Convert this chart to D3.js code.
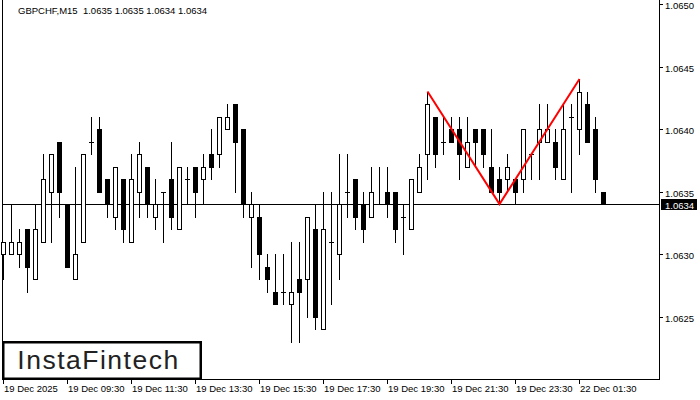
<!DOCTYPE html>
<html>
<head>
<meta charset="utf-8">
<script src="https://cdn.jsdelivr.net/npm/d3@7"></script>
<style>
  body { margin: 0; background: #fff; }
  text { font-family: "Liberation Sans", Arial, sans-serif; }
</style>
</head>
<body>
<div id="svgcontainer"></div>
<script>
let width = 700;
let height = 400;

let symbol = "GBPCHF";
let period = "M15";
// OHLC of each 15 min bar
let opens = [1.0630, 1.0630, 1.0630, 1.0632, 1.0628, 1.0631, 1.0635, 1.0639, 1.0634, 1.0628,
    1.0631, 1.0639, 1.0640, 1.0636, 1.0633, 1.0636, 1.0631, 1.0635, 1.0637, 1.0633,
    1.0635, 1.0636, 1.0632, 1.0636, 1.0637, 1.0636, 1.0638, 1.0638, 1.0640, 1.0642,
    1.0640, 1.0633, 1.0633, 1.0629, 1.0627, 1.0627, 1.0626, 1.0628, 1.0628, 1.0632,
    1.0624, 1.0631, 1.0630, 1.0635, 1.0636, 1.0634, 1.0633, 1.0634, 1.0635, 1.0635,
    1.0633, 1.0632, 1.0635, 1.0638, 1.0641, 1.0639, 1.0640, 1.0640, 1.0637, 1.0640,
    1.0640, 1.0637, 1.0636, 1.0636, 1.0636, 1.0636, 1.0638, 1.0639, 1.0639, 1.0639,
    1.0636, 1.0641, 1.0640, 1.0642, 1.0640, 1.0635];
let highs = [1.0631, 1.0634, 1.0632, 1.0632, 1.0634, 1.0638, 1.0638, 1.0639, 1.0634, 1.0637,
    1.0638, 1.0641, 1.0641, 1.0636, 1.0637, 1.0636, 1.0638, 1.0639, 1.0637, 1.0636,
    1.0635, 1.0639, 1.0637, 1.0637, 1.0637, 1.0638, 1.0640, 1.0641, 1.0642, 1.0642,
    1.0640, 1.0635, 1.0634, 1.0630, 1.0630, 1.0630, 1.0631, 1.0631, 1.0633, 1.0634,
    1.0635, 1.0635, 1.0638, 1.0638, 1.0636, 1.0635, 1.0637, 1.0637, 1.0637, 1.0635,
    1.0634, 1.0636, 1.0638, 1.0643, 1.0641, 1.0641, 1.0641, 1.0641, 1.0641, 1.0640,
    1.0640, 1.0640, 1.0637, 1.0638, 1.0636, 1.0640, 1.0638, 1.0642, 1.0642, 1.0640,
    1.0642, 1.0642, 1.0644, 1.0643, 1.0641, 1.0635];
let lows = [1.0628, 1.0630, 1.0629, 1.0627, 1.0628, 1.0631, 1.0631, 1.0633, 1.0629, 1.0628,
    1.0631, 1.0638, 1.0635, 1.0633, 1.0632, 1.0631, 1.0631, 1.0633, 1.0633, 1.0632,
    1.0631, 1.0632, 1.0632, 1.0634, 1.0633, 1.0634, 1.0636, 1.0637, 1.0640, 1.0635,
    1.0633, 1.0629, 1.0628, 1.0627, 1.0626, 1.0626, 1.0623, 1.0623, 1.0625, 1.0624,
    1.0624, 1.0626, 1.0628, 1.0633, 1.0632, 1.0631, 1.0633, 1.0634, 1.0633, 1.0631,
    1.0630, 1.0632, 1.0635, 1.0636, 1.0637, 1.0638, 1.0639, 1.0636, 1.0637, 1.0637,
    1.0637, 1.0635, 1.0634, 1.0635, 1.0634, 1.0635, 1.0636, 1.0636, 1.0639, 1.0636,
    1.0636, 1.0635, 1.0638, 1.0639, 1.0635, 1.0634];
let closes = [1.0631, 1.0631, 1.0631, 1.0629, 1.0632, 1.0636, 1.0638, 1.0635, 1.0629, 1.0630,
    1.0638, 1.0639, 1.0635, 1.0634, 1.0637, 1.0632, 1.0636, 1.0638, 1.0634, 1.0634,
    1.0635, 1.0633, 1.0637, 1.0636, 1.0635, 1.0637, 1.0637, 1.0641, 1.0641, 1.0639,
    1.0634, 1.0634, 1.0630, 1.0628, 1.0626, 1.0627, 1.0627, 1.0627, 1.0633, 1.0625,
    1.0632, 1.0631, 1.0634, 1.0635, 1.0633, 1.0632, 1.0635, 1.0634, 1.0634, 1.0632,
    1.0633, 1.0636, 1.0637, 1.0642, 1.0638, 1.0639, 1.0639, 1.0638, 1.0639, 1.0639,
    1.0638, 1.0635, 1.0635, 1.0637, 1.0635, 1.0640, 1.0638, 1.0640, 1.0640, 1.0637,
    1.0640, 1.0641, 1.0643, 1.0639, 1.0636, 1.0634];

let timeTickBars = [0, 8, 16, 24, 32, 40, 48, 56, 64, 72];
let timeTickLabels = ["19 Dec 2025", "19 Dec 09:30", "19 Dec 11:30", "19 Dec 13:30", "19 Dec 15:30",
    "19 Dec 17:30", "19 Dec 19:30", "19 Dec 21:30", "19 Dec 23:30", "22 Dec 01:30"];
let priceTicks = [1.0625, 1.0630, 1.0635, 1.0640, 1.0645, 1.0650];
// double top: first top, neck, second top
let patternBars = [53, 62, 72];
let patternKinds = ["high", "low", "high"];

let plot = { left: 2, right: 659, top: 0, bottom: 379 };
let fontSize = '9.5px';

let bars = opens.map((o, i) => ({ i: i, o: o, h: highs[i], l: lows[i], c: closes[i] }));
let last = bars[bars.length - 1];
let fmt = d3.format(".4f");

let svg = d3.select("#svgcontainer")
    .append('svg')
    .attr('width', width)
    .attr('height', height)
    .style('display', 'block');

let x = d3.scaleLinear()
    .domain([0, bars.length - 1])
    .range([3, 3 + 8 * (bars.length - 1)]);
let y = d3.scaleLinear()
    .domain([1.0625, 1.0650])
    .range([316.7, 4]);
let py = p => Math.round(y(p));

let frame = svg.append('g').attr('class', 'frame').attr('shape-rendering', 'crispEdges');
frame.append('line')
    .attr('x1', plot.left + 0.5).attr('x2', plot.left + 0.5)
    .attr('y1', plot.top).attr('y2', plot.bottom + 1)
    .attr('stroke', '#000');
frame.append('line')
    .attr('x1', plot.right + 0.5).attr('x2', plot.right + 0.5)
    .attr('y1', plot.top).attr('y2', plot.bottom + 1)
    .attr('stroke', '#000');
frame.append('line')
    .attr('x1', plot.left).attr('x2', plot.right + 1)
    .attr('y1', plot.bottom + 0.5).attr('y2', plot.bottom + 0.5)
    .attr('stroke', '#000');

// right price axis
let yaxis = svg.append('g').attr('class', 'yaxis');
priceTicks.forEach(function (p) {
    yaxis.append('line')
        .attr('shape-rendering', 'crispEdges')
        .attr('x1', plot.right + 1).attr('x2', plot.right + 4)
        .attr('y1', py(p) + 0.5).attr('y2', py(p) + 0.5)
        .attr('stroke', '#000');
    yaxis.append('text')
        .attr('x', 665)
        .attr('y', py(p) + 4.5)
        .attr('font-size', fontSize)
        .attr('fill', '#000')
        .text(fmt(p));
});

// bottom time axis
let xaxis = svg.append('g').attr('class', 'xaxis');
timeTickBars.forEach(function (b, k) {
    xaxis.append('line')
        .attr('shape-rendering', 'crispEdges')
        .attr('x1', x(b) + 0.5).attr('x2', x(b) + 0.5)
        .attr('y1', plot.bottom + 1).attr('y2', plot.bottom + 5)
        .attr('stroke', '#000');
    xaxis.append('text')
        .attr('x', x(b) + 1)
        .attr('y', 392)
        .attr('font-size', fontSize)
        .attr('fill', '#000')
        .text(timeTickLabels[k]);
});

// bid line
svg.append('line')
    .attr('shape-rendering', 'crispEdges')
    .attr('x1', plot.left).attr('x2', plot.right)
    .attr('y1', py(last.c) + 0.5).attr('y2', py(last.c) + 0.5)
    .attr('stroke', '#000');

let candles = svg.append('g').attr('class', 'candles').attr('shape-rendering', 'crispEdges');
bars.forEach(function (d) {
    let cx = x(d.i);
    let g = candles.append('g');
    g.append('line')
        .attr('x1', cx + 0.5).attr('x2', cx + 0.5)
        .attr('y1', py(d.h)).attr('y2', py(d.l) + 1)
        .attr('stroke', '#000');
    let top = py(Math.max(d.o, d.c));
    let bot = py(Math.min(d.o, d.c));
    if (d.o === d.c) {
        g.append('line')
            .attr('x1', cx - 2).attr('x2', cx + 3)
            .attr('y1', top + 0.5).attr('y2', top + 0.5)
            .attr('stroke', '#000');
    } else if (d.c > d.o) {
        g.append('rect')
            .attr('x', cx - 1.5).attr('y', top + 0.5)
            .attr('width', 4).attr('height', bot - top)
            .attr('fill', '#fff').attr('stroke', '#000');
    } else {
        g.append('rect')
            .attr('x', cx - 2).attr('y', top)
            .attr('width', 5).attr('height', bot - top + 1)
            .attr('fill', '#000');
    }
});

// pattern lines
let patternPts = patternBars.map((b, k) => [x(b) + 0.5, y(patternKinds[k] === "high" ? highs[b] : lows[b])]);
svg.append('path')
    .attr('d', d3.line()(patternPts))
    .attr('fill', 'none')
    .attr('stroke', '#ff0000')
    .attr('stroke-width', 2);

// bid label
svg.append('rect')
    .attr('x', 661).attr('y', py(last.c) - 5)
    .attr('width', 36).attr('height', 11)
    .attr('fill', '#000');
svg.append('text')
    .attr('x', 665).attr('y', py(last.c) + 4.5)
    .attr('font-size', fontSize)
    .attr('fill', '#fff')
    .text(fmt(last.c));

// header
svg.append('text')
    .attr('x', 18).attr('y', 14)
    .attr('font-size', fontSize)
    .attr('fill', '#000')
    .attr('xml:space', 'preserve')
    .text(symbol + "," + period + "  " + [last.o, last.h, last.l, last.c].map(fmt).join(" "));

// logo
svg.append('rect')
    .attr('x', 3.25).attr('y', 342.25)
    .attr('width', 197.5).attr('height', 36.5)
    .attr('fill', '#fff')
    .attr('stroke', '#000')
    .attr('stroke-width', 2.5);
svg.append('text')
    .attr('x', 98.5).attr('y', 368.5)
    .attr('text-anchor', 'middle')
    .attr('font-family', '"Open Sans", sans-serif')
    .attr('font-weight', 500)
    .attr('font-size', '26.5px')
    .attr('letter-spacing', '1.5px')
    .attr('fill', '#222')
    .text("InstaFintech");
</script>
</body>
</html>
